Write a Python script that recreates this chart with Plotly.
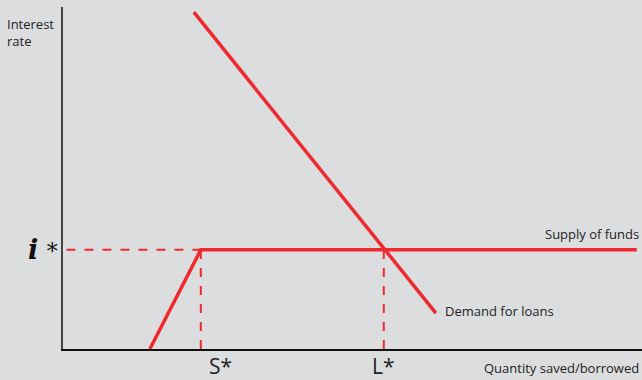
import plotly.graph_objects as go

# Loanable funds market (abstract units 0-100 on both axes)
i_star = 29.0          # equilibrium interest rate
s_star = 23.8          # quantity saved at i*
l_star = 55.4          # quantity borrowed at i*

supply_x = [15.0, s_star, 99.1]
supply_y = [0.0, i_star, i_star]

demand_x = [22.6, 64.4]
demand_y = [98.5, 10.5]

RED = "#ee2a2e"
BG = "#dcdddf"
FONT = "Open Sans"

# Plot-area geometry in pixels (used to place the outer labels)
W, H = 642, 380
ML, MR, MT, MB = 63, 0, 7, 31
PW, PH = W - ML - MR, H - MT - MB

fig = go.Figure()

# Dashed guides to the axes
fig.add_trace(go.Scatter(x=[0.6, s_star], y=[i_star, i_star], mode="lines",
                         line=dict(color=RED, width=2, dash="dash"), hoverinfo="skip"))
fig.add_trace(go.Scatter(x=[s_star, s_star], y=[0, i_star], mode="lines",
                         line=dict(color=RED, width=2, dash="dash"), hoverinfo="skip"))
fig.add_trace(go.Scatter(x=[l_star, l_star], y=[0, i_star], mode="lines",
                         line=dict(color=RED, width=2, dash="dash"), hoverinfo="skip"))

# Supply of funds and demand for loans
fig.add_trace(go.Scatter(x=supply_x, y=supply_y, mode="lines",
                         line=dict(color=RED, width=3.5), hoverinfo="skip"))
fig.add_trace(go.Scatter(x=demand_x, y=demand_y, mode="lines",
                         line=dict(color=RED, width=3.5), hoverinfo="skip"))

fig.update_traces(cliponaxis=False)


def px(v):
    """data x -> paper x"""
    return v / 100.0


def py(v):
    """data y -> paper y"""
    return v / 100.0


def pxp(pixel_x):
    """pixel column -> paper x"""
    return (pixel_x - ML) / PW


def pyp(pixel_y):
    """pixel row -> paper y"""
    return (H - MB - pixel_y) / PH


ann = [
    dict(x=pxp(5), y=pyp(13), text="Interest<br>rate", xanchor="left", yanchor="top",
         align="left", font=dict(size=13, family=FONT, color="#222")),
    dict(x=pxp(60), y=py(i_star), text="<b><i>i</i></b> <span style='font-size:22px'>*</span>",
         xanchor="right", yanchor="middle",
         font=dict(size=27, family="DejaVu Serif", color="#111")),
    dict(x=px(s_star) + 20 / PW, y=pyp(366), text="S*", xanchor="center", yanchor="middle",
         font=dict(size=21, family=FONT, color="#222")),
    dict(x=px(l_star), y=pyp(366), text="L*", xanchor="center", yanchor="middle",
         font=dict(size=21, family=FONT, color="#222")),
    dict(x=pxp(641), y=pyp(234), text="Supply of funds", xanchor="right", yanchor="middle",
         font=dict(size=13, family=FONT, color="#222")),
    dict(x=pxp(443), y=pyp(311), text="Demand for loans", xanchor="left", yanchor="middle",
         font=dict(size=13, family=FONT, color="#222")),
    dict(x=pxp(641), y=pyp(368), text="Quantity saved/borrowed", xanchor="right", yanchor="middle",
         font=dict(size=13, family=FONT, color="#222")),
]
for a in ann:
    a.update(xref="paper", yref="paper", showarrow=False)

fig.update_layout(
    width=W, height=H,
    margin=dict(l=ML, r=MR, t=MT, b=MB),
    paper_bgcolor=BG, plot_bgcolor=BG,
    showlegend=False,
    annotations=ann,
    xaxis=dict(range=[0, 100], showgrid=False, zeroline=False, showticklabels=False,
               ticks="", showline=True, linecolor="#111", linewidth=1.5, fixedrange=True),
    yaxis=dict(range=[0, 100], showgrid=False, zeroline=False, showticklabels=False,
               ticks="", showline=True, linecolor="#444", linewidth=1.5, fixedrange=True),
)

fig.write_html("out.html")
